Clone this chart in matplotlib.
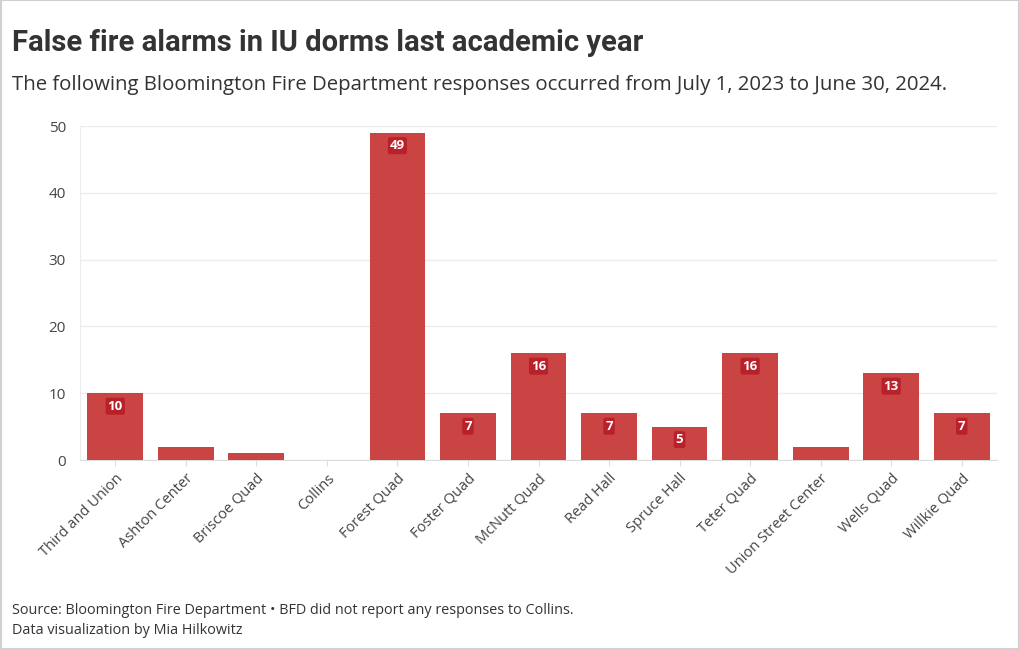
import matplotlib
matplotlib.use("Agg")
import matplotlib.pyplot as plt
from matplotlib.patches import Rectangle

categories = ["Third and Union", "Ashton Center", "Briscoe Quad", "Collins", "Forest Quad",
              "Foster Quad", "McNutt Quad", "Read Hall", "Spruce Hall", "Teter Quad",
              "Union Street Center", "Wells Quad", "Willkie Quad"]
values = [10, 2, 1, 0, 49, 7, 16, 7, 5, 16, 2, 13, 7]
yticks = [0, 10, 20, 30, 40, 50]

title = "False fire alarms in IU dorms last academic year"
subtitle = "The following Bloomington Fire Department responses occurred from July 1, 2023 to June 30, 2024."
source = "Source: Bloomington Fire Department \u2022 BFD did not report any responses to Collins."
credit = "Data visualization by Mia Hilkowitz"

body_font = ["Open Sans", "DejaVu Sans"]
title_font = ["Roboto", "DejaVu Sans"]
text_color = "#333333"

fig = plt.figure(figsize=(10.2, 6.5), dpi=100)
fig.patch.set_facecolor("white")
fig.add_artist(Rectangle((0.0005, 0.0008), 0.999, 0.9985, transform=fig.transFigure,
                         fill=False, edgecolor="#d0d0d0", linewidth=1.5))

ax = fig.add_axes([80 / 1020, 1 - 460 / 650, (997 - 80) / 1020, (460 - 126) / 650])
x = list(range(len(categories)))
ax.bar(x, values, width=0.79, color="#c83a3a", alpha=0.95, zorder=3)
ax.set_xlim(-0.5, len(categories) - 0.5)
ax.set_ylim(0, 50)
ax.set_yticks(yticks)
ax.set_yticklabels([str(t) for t in yticks], fontsize=11, color="#444444", family=body_font)
ax.set_xticks(x)
ax.set_xticklabels(categories, rotation=45, ha="right", rotation_mode="anchor",
                   fontsize=10.5, color="#444444", family=body_font)
ax.tick_params(axis="y", length=0, pad=10)
ax.tick_params(axis="x", length=4, color="#dddddd", pad=4)
ax.grid(axis="y", color="#ececec", linewidth=1, zorder=0)
for s in ["top", "right"]:
    ax.spines[s].set_visible(False)
ax.spines["left"].set_color("#ececec")
ax.spines["bottom"].set_color("#dddddd")

for xi, v in zip(x, values):
    if v >= 5:
        ax.annotate(str(v), xy=(xi, v), xytext=(0, -13), textcoords="offset pixels",
                    ha="center", va="center", fontsize=9.5, fontweight="bold", color="white",
                    family=body_font, zorder=5,
                    bbox=dict(boxstyle="round,pad=0.15", fc="#b8202a", ec="none"))

fig.text(12 / 1020, 1 - 43 / 650, title, fontsize=21, fontweight="bold", color=text_color,
         family=title_font, va="center", ha="left")
fig.text(12 / 1020, 1 - 85 / 650, subtitle, fontsize=14.7, color=text_color,
         family=body_font, va="center", ha="left")
fig.text(12 / 1020, 1 - 611 / 650, source, fontsize=10.4, color=text_color,
         family=body_font, va="center", ha="left")
fig.text(12 / 1020, 1 - 631 / 650, credit, fontsize=10.4, color=text_color,
         family=body_font, va="center", ha="left")

fig.savefig("out.png", dpi=100, facecolor="white")
